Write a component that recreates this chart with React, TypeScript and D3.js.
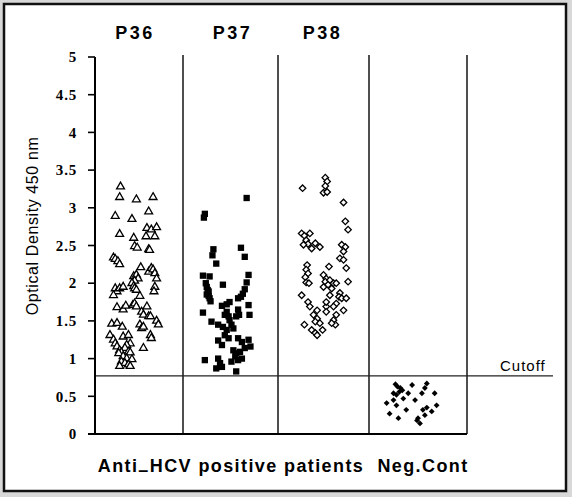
import React from "react";
import * as d3 from "d3";

const groups = ["P36", "P37", "P38", "Neg.Cont"];
const yTicks = [0, 0.5, 1, 1.5, 2, 2.5, 3, 3.5, 4, 4.5, 5];
const cutoff = 0.77;

// [position within column (0..1), optical density]
const p36: [number, number][] = [
  [0.29, 3.28], [0.28, 3.14], [0.47, 3.11], [0.66, 3.14], [0.23, 2.89], [0.42, 2.85], [0.61, 2.95],
  [0.28, 2.65], [0.44, 2.6], [0.59, 2.73], [0.64, 2.71], [0.7, 2.74], [0.58, 2.62], [0.68, 2.62],
  [0.45, 2.49], [0.48, 2.47], [0.61, 2.45], [0.62, 2.44], [0.21, 2.34], [0.23, 2.32], [0.26, 2.29],
  [0.28, 2.25], [0.52, 2.21], [0.61, 2.15], [0.64, 2.2], [0.66, 2.18], [0.68, 2.13], [0.7, 2.06],
  [0.44, 2.09], [0.47, 2.11], [0.49, 2.06], [0.45, 2.03], [0.42, 2.0], [0.44, 1.96], [0.45, 1.93],
  [0.47, 1.91], [0.68, 1.95], [0.67, 1.89], [0.23, 1.93], [0.25, 1.89], [0.21, 1.84], [0.28, 1.93],
  [0.32, 1.95], [0.51, 1.83], [0.25, 1.68], [0.32, 1.65], [0.35, 1.7], [0.43, 1.71], [0.45, 1.73],
  [0.47, 1.69], [0.53, 1.62], [0.55, 1.58], [0.59, 1.69], [0.61, 1.56], [0.63, 1.56], [0.19, 1.46],
  [0.25, 1.47], [0.31, 1.42], [0.51, 1.45], [0.53, 1.4], [0.55, 1.42], [0.7, 1.5], [0.72, 1.45],
  [0.63, 1.31], [0.64, 1.27], [0.17, 1.31], [0.21, 1.25], [0.23, 1.2], [0.25, 1.16], [0.32, 1.29],
  [0.38, 1.31], [0.4, 1.2], [0.36, 1.18], [0.34, 1.14], [0.28, 1.11], [0.3, 1.08], [0.27, 1.07],
  [0.38, 1.09], [0.4, 1.08], [0.32, 1.03], [0.36, 1.0], [0.42, 0.99], [0.3, 0.96], [0.34, 0.94],
  [0.38, 0.92], [0.4, 0.9], [0.55, 1.14], [0.28, 0.9],
];

const p37: [number, number][] = [
  [0.67, 3.13], [0.23, 2.92], [0.22, 2.87], [0.32, 2.45], [0.31, 2.37], [0.61, 2.47], [0.65, 2.35],
  [0.35, 2.26], [0.21, 2.1], [0.28, 2.09], [0.42, 1.98], [0.69, 2.11], [0.67, 2.01], [0.25, 1.95],
  [0.27, 1.89], [0.25, 1.85], [0.29, 1.76], [0.27, 1.83], [0.24, 2.0], [0.26, 1.91], [0.28, 1.8],
  [0.65, 1.92], [0.63, 1.86], [0.61, 1.82], [0.58, 1.8], [0.49, 1.75], [0.46, 1.72], [0.41, 1.7],
  [0.21, 1.61], [0.69, 1.71], [0.7, 1.58], [0.58, 1.65], [0.59, 1.58], [0.56, 1.56], [0.46, 1.62],
  [0.48, 1.56], [0.49, 1.51], [0.44, 1.58], [0.3, 1.49], [0.37, 1.45], [0.42, 1.42], [0.46, 1.38],
  [0.51, 1.45], [0.53, 1.4], [0.44, 1.31], [0.48, 1.27], [0.37, 1.24], [0.41, 1.18], [0.58, 1.27],
  [0.62, 1.22], [0.69, 1.25], [0.71, 1.16], [0.65, 1.14], [0.53, 1.11], [0.56, 1.07], [0.6, 1.09],
  [0.55, 1.03], [0.58, 0.98], [0.62, 1.0], [0.51, 0.96], [0.23, 0.98], [0.37, 1.0], [0.39, 0.94],
  [0.35, 0.87], [0.41, 0.89], [0.56, 0.83],
];

const p38: [number, number][] = [
  [0.27, 3.26], [0.52, 3.4], [0.54, 3.35], [0.52, 3.29], [0.5, 3.2], [0.54, 3.21], [0.72, 3.07],
  [0.74, 2.82], [0.77, 2.71], [0.26, 2.66], [0.29, 2.63], [0.35, 2.66], [0.31, 2.57], [0.33, 2.52],
  [0.41, 2.53], [0.37, 2.46], [0.28, 2.51], [0.46, 2.48], [0.7, 2.51], [0.74, 2.48], [0.72, 2.42],
  [0.68, 2.33], [0.72, 2.31], [0.75, 2.2], [0.32, 2.24], [0.31, 2.18], [0.33, 2.13], [0.3, 2.08],
  [0.31, 2.01], [0.34, 2.0], [0.56, 2.22], [0.5, 2.11], [0.53, 2.06], [0.52, 2.02], [0.57, 2.04],
  [0.61, 2.0], [0.55, 1.98], [0.5, 1.95], [0.59, 1.93], [0.64, 2.0], [0.77, 2.02], [0.26, 1.84],
  [0.33, 1.75], [0.35, 1.69], [0.68, 1.87], [0.67, 1.82], [0.7, 1.8], [0.64, 1.73], [0.75, 1.8],
  [0.61, 1.69], [0.53, 1.69], [0.57, 1.84], [0.53, 1.75], [0.43, 1.64], [0.39, 1.58], [0.43, 1.53],
  [0.41, 1.49], [0.46, 1.47], [0.53, 1.62], [0.64, 1.58], [0.61, 1.51], [0.63, 1.45], [0.59, 1.47],
  [0.72, 1.64], [0.29, 1.45], [0.37, 1.38], [0.41, 1.34], [0.43, 1.31], [0.49, 1.38],
];

const negCont: [number, number][] = [
  [0.27, 0.66], [0.29, 0.63], [0.32, 0.61], [0.34, 0.58], [0.25, 0.54], [0.28, 0.52], [0.31, 0.56],
  [0.44, 0.65], [0.59, 0.67], [0.57, 0.61], [0.54, 0.54], [0.4, 0.54], [0.47, 0.45], [0.35, 0.47],
  [0.25, 0.45], [0.28, 0.38], [0.18, 0.41], [0.21, 0.27], [0.3, 0.21], [0.38, 0.32], [0.67, 0.54],
  [0.69, 0.38], [0.64, 0.3], [0.55, 0.32], [0.57, 0.25], [0.5, 0.21], [0.52, 0.14], [0.49, 0.18],
  [0.59, 0.35],
];

const W = 572;
const H = 497;

export default function App() {
  const x = d3.scaleLinear().domain([0, 1, 2, 3, 4]).range([95, 183, 278, 369, 467]);
  const y = d3.scaleLinear().domain([0, 5]).range([434, 57]);

  const tri = d3.symbol().type(d3.symbolTriangle).size(27)()!;
  const sq = d3.symbol().type(d3.symbolSquare).size(40)()!;
  const dia = d3.symbol().type(d3.symbolSquare).size(21)()!;
  const diaSmall = d3.symbol().type(d3.symbolSquare).size(17)()!;

  const sans = "Arial, 'Liberation Sans', Helvetica, sans-serif";
  const serif = "'Times New Roman', 'Liberation Serif', serif";

  const series = [
    { data: p36, g: 0, path: tri, fill: "#fff", stroke: "#000", rot: 0, sw: 1.3 },
    { data: p37, g: 1, path: sq, fill: "#000", stroke: "none", rot: 0, sw: 0 },
    { data: p38, g: 2, path: dia, fill: "#fff", stroke: "#000", rot: 45, sw: 1.3 },
    { data: negCont, g: 3, path: diaSmall, fill: "#000", stroke: "none", rot: 45, sw: 0 },
  ];

  return (
    <svg
      width={W}
      height={H}
      style={{ position: "absolute", left: 0, top: 0, background: "#fff" }}
    >
      <rect x={0} y={0} width={W} height={H} fill="#d8d8d8" />
      <rect x={4} y={4} width={562} height={487} fill="#fff" stroke="#111" strokeWidth={2.5} />

      {/* column dividers */}
      {[1, 2, 3, 4].map((d) => (
        <line key={d} x1={x(d)} x2={x(d)} y1={y(5) - 2} y2={y(0)} stroke="#222" strokeWidth={1.6} />
      ))}

      {/* cutoff line */}
      <line x1={x(0)} x2={553} y1={y(cutoff)} y2={y(cutoff)} stroke="#222" strokeWidth={1.3} />
      <text x={500} y={y(cutoff) - 5} fontFamily={sans} fontSize={15} letterSpacing={1} fill="#000">
        Cutoff
      </text>

      {/* axes */}
      <line x1={x(0)} x2={x(0)} y1={y(5)} y2={y(0)} stroke="#000" strokeWidth={2} />
      <line x1={x(0) - 7} x2={x(4)} y1={y(0)} y2={y(0)} stroke="#000" strokeWidth={2} />
      {yTicks.map((t) => (
        <g key={t}>
          <line x1={x(0) - 7} x2={x(0)} y1={y(t)} y2={y(t)} stroke="#000" strokeWidth={1.6} />
          <text
            x={77}
            y={y(t)}
            dy="0.35em"
            textAnchor="end"
            fontFamily={serif}
            fontWeight="bold"
            fontSize={15}
            letterSpacing={0.8}
            fill="#000"
          >
            {t}
          </text>
        </g>
      ))}
      <text
        transform={`translate(38,${226}) rotate(-90)`}
        textAnchor="middle"
        fontFamily={sans}
        fontSize={16}
        letterSpacing={0.6}
        fill="#000"
      >
        Optical Density 450 nm
      </text>

      {/* column titles */}
      {groups.slice(0, 3).map((g, i) => (
        <text
          key={g}
          x={x(i + 0.5) + (i === 0 ? -4 : i === 2 ? -1 : 2)}
          y={39}
          textAnchor="middle"
          fontFamily={sans}
          fontWeight="bold"
          fontSize={18}
          letterSpacing={2.5}
          fill="#000"
        >
          {g}
        </text>
      ))}

      {/* points */}
      {series.map((s) =>
        s.data.map((p, i) => (
          <path
            key={`${s.g}-${i}`}
            d={s.path}
            transform={`translate(${x(s.g + p[0])},${y(p[1])}) rotate(${s.rot})`}
            fill={s.fill}
            stroke={s.stroke}
            strokeWidth={s.sw}
          />
        ))
      )}

      {/* bottom labels */}
      <text
        x={231}
        y={472}
        textAnchor="middle"
        fontFamily={sans}
        fontWeight="bold"
        fontSize={18}
        letterSpacing={1.4}
        fill="#000"
      >
        Anti<tspan dy={4}>–</tspan>
        <tspan dy={-4}>HCV positive patients</tspan>
      </text>
      <text
        x={423}
        y={472}
        textAnchor="middle"
        fontFamily={sans}
        fontWeight="bold"
        fontSize={18}
        letterSpacing={1.4}
        fill="#000"
      >
        {groups[3]}
      </text>
    </svg>
  );
}
